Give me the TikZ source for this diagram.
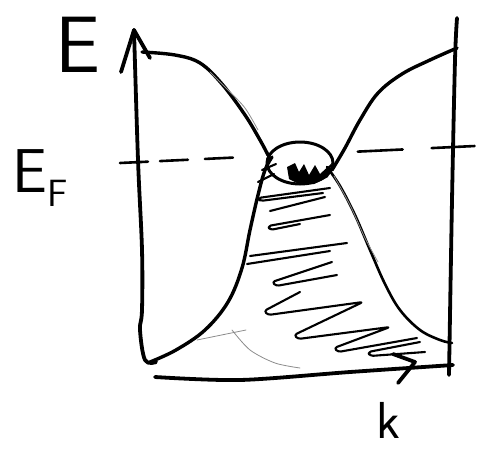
\documentclass[tikz,border=0pt]{standalone}
\begin{document}
\begin{tikzpicture}[x=1pt,y=-1pt,line cap=round,line join=round,
  ink/.style={line width=3.4pt},
  axisline/.style={line width=3.8pt},
  hatch/.style={line width=2.1pt,rounded corners=3pt},
  faint/.style={line width=0.8pt,black!45},
  lbl/.style={inner sep=0pt,font=\sffamily}]
\useasboundingbox (0,0) rectangle (478,450);
% labels
\node[lbl] (E) at (78,45) {\fontsize{80}{80}\selectfont E};
\node[lbl] (EF) at (40,178) {\fontsize{62}{62}\selectfont E{\fontsize{38}{38}\selectfont\raisebox{-14pt}{F}}};
\node[lbl] (k) at (388,420) {\fontsize{52}{52}\selectfont k};
% coordinates
\coordinate (ytip) at (134,30);
\coordinate (dashL) at (120,163);
\coordinate (dashR) at (475,146);
\coordinate (kL) at (155,377);
\coordinate (kR) at (453,365);
% energy axis with hand-drawn arrow head
\draw[axisline] plot[smooth,tension=0.6] coordinates {(ytip) (138,160) (142,250) (142,310) (140,330) (145,360) (156,362)};
\draw[axisline] (121,72) -- (ytip) -- (150,58);
% right frame line
\draw[axisline] plot[smooth] coordinates {(457,18) (455,60) (452,200) (449,375)};
% k axis
\draw[axisline] plot[smooth,tension=0.5] coordinates {(kL) (240,380) (350,372) (kR)};
\draw[axisline] (393,354) -- (415,362) -- (398,383);
% Fermi level
\draw[line width=2.6pt,dash pattern=on 28pt off 12pt on 28pt off 17pt on 28pt off 125pt on 45pt off 29pt on 43pt off 100pt] (dashL) -- (dashR);
% conduction band
\draw[ink] plot[smooth,tension=0.6] coordinates {(142,52) (175,55) (200,63) (222,84) (245,115) (260,140) (268,155)};
\draw[ink] plot[smooth,tension=0.6] coordinates {(332,170) (345,148) (360,120) (378,93) (402,74) (430,60) (457,48)};
% valence band
\draw[ink] plot[smooth,tension=0.6] coordinates {(150,362) (176,350) (205,330) (228,302) (242,268) (250,230) (258,195) (265,170) (272,157)};
\draw[line width=2.6pt] plot[smooth,tension=0.6] coordinates {(327,167) (340,186) (355,215) (370,250) (385,284) (400,310) (420,330) (440,340) (452,343)};
% hole pocket
\draw[line width=3pt] (300,163) ellipse [x radius=33, y radius=21];
\fill (287,167) -- (295,163) -- (299,172) -- (304,164) -- (309,175) -- (315,165) -- (320,174) -- (332,163) -- (328,177) -- (314,184) -- (299,184) -- (289,179) -- cycle;
% hatching
\draw[hatch] (262,170) -- (276,164);
\draw[hatch] (258,182) -- (274,174);
\draw[hatch] (330,188) -- (258,198) -- (260,201) -- (323,193);
\draw[hatch] (270,211) -- (325,197);
\draw[hatch] (330,215) -- (268,226) -- (270,230) -- (300,224);
\draw[hatch] (250,256) -- (347,243);
\draw[hatch] (247,264) -- (330,251);
\draw[hatch] (332,262) -- (272,282) -- (276,286) -- (337,275);
\draw[hatch] (300,292) -- (264,311) -- (268,315) -- (363,302) -- (294,335) -- (298,339) -- (390,327) -- (334,348) -- (338,352) -- (417,338);
\draw[hatch] (420,342) -- (368,352) -- (370,356) -- (425,352);
% faint pencil traces
\draw[faint] (197,340) -- (246,330);
\draw[faint] plot[smooth] coordinates {(232,330) (250,350) (275,363) (300,368)};
\draw[faint] plot[smooth] coordinates {(334,176) (350,205) (365,238) (378,262)};
\draw[faint] plot[smooth] coordinates {(210,72) (228,90) (245,108) (258,130)};
\end{tikzpicture}
\end{document}
